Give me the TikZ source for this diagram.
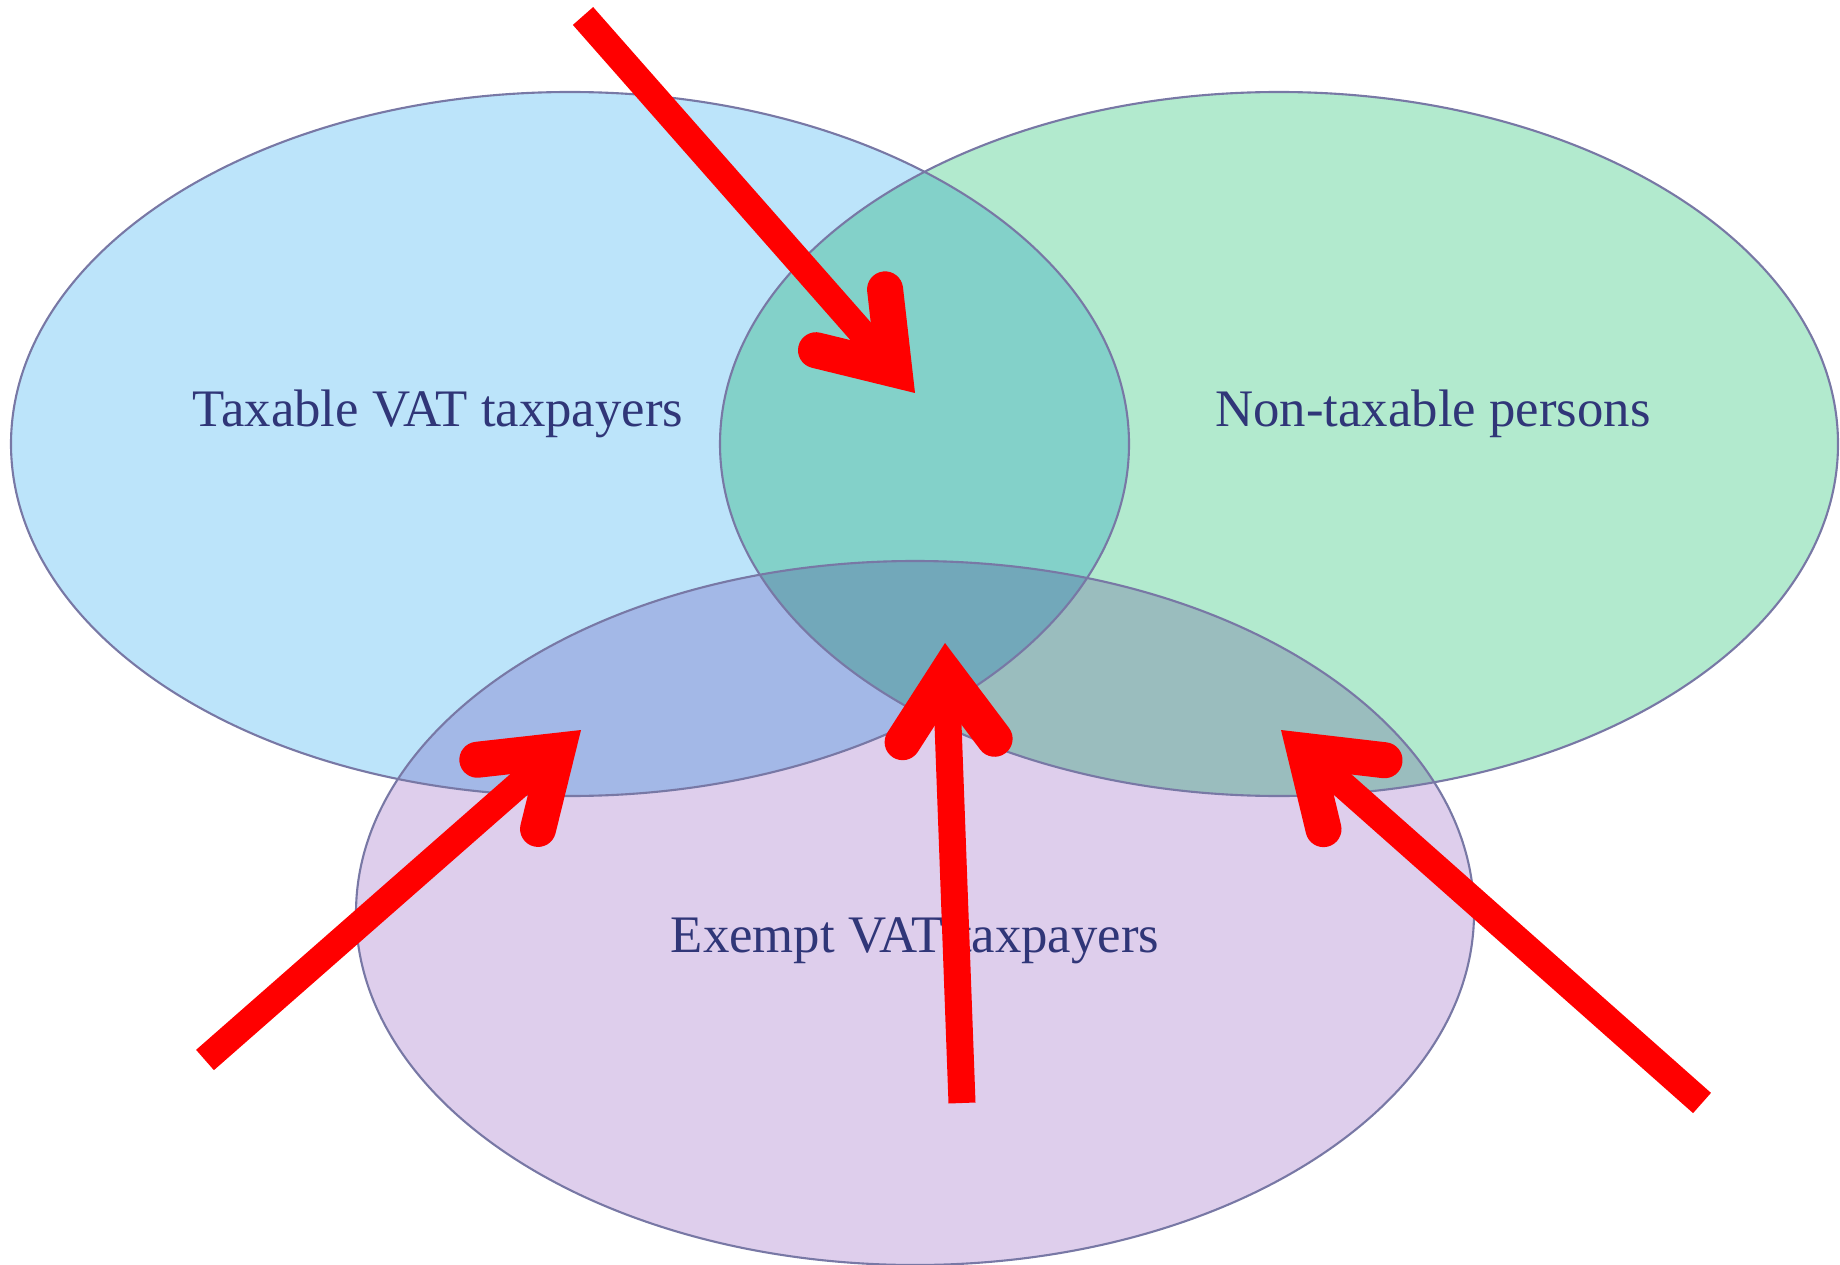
\documentclass[tikz,border=0pt]{standalone}
\usepackage{fontspec}
\setmainfont{Liberation Serif}
\usetikzlibrary{arrows.meta}
\definecolor{taxblue}{RGB}{188,228,250}
\definecolor{nongreen}{RGB}{178,234,206}
\definecolor{exmauve}{RGB}{222,206,236}
\definecolor{rimgray}{RGB}{120,120,165}
\definecolor{labelnavy}{RGB}{48,54,120}
\tikzset{
  setrim/.style={draw=rimgray, line width=0.6pt},
  setlabel/.style={text=labelnavy, font=\fontsize{15}{17}\selectfont},
  pointer/.style={draw=red, line width=0.27cm,
    -{Straight Barb[length=0.66cm, width=0.92cm, line width=0.36cm, line cap=round, line join=miter]}}
}

\begin{document}
\begin{tikzpicture}[x=0.01cm, y=-0.01cm]
      \useasboundingbox (0,0) rectangle (1840,1264);

      % the three sets
      \begin{scope}[blend group=multiply]
        \fill[taxblue] (570,444) ellipse [x radius=559, y radius=352];
        \fill[nongreen] (1279,444) ellipse [x radius=559, y radius=352];
        \fill[exmauve] (915,913) ellipse [x radius=559, y radius=352];
      \end{scope}
      \draw[setrim] (570,444) ellipse [x radius=559, y radius=352];
      \draw[setrim] (1279,444) ellipse [x radius=559, y radius=352];
      \draw[setrim] (915,913) ellipse [x radius=559, y radius=352];

      \node[setlabel] (taxable) at (438,414) {Taxable VAT taxpayers};
      \node[setlabel] (nontaxable) at (1433,414) {Non-taxable persons};
      \node[setlabel] (exempt) at (915,941) {Exempt VAT taxpayers};

      % pointers into the overlaps
      \coordinate (tn start) at (583,16);
      \coordinate (tn) at (915,393);
      \coordinate (te start) at (205,1060);
      \coordinate (te) at (581,730);
      \coordinate (all start) at (962,1103);
      \coordinate (all) at (945,643);
      \coordinate (ne start) at (1702,1103);
      \coordinate (ne) at (1281,730);

      \draw[pointer] (tn start) -- (tn);
      \draw[pointer] (te start) -- (te);
      \draw[pointer] (all start) -- (all);
      \draw[pointer] (ne start) -- (ne);
\end{tikzpicture}
\end{document}
